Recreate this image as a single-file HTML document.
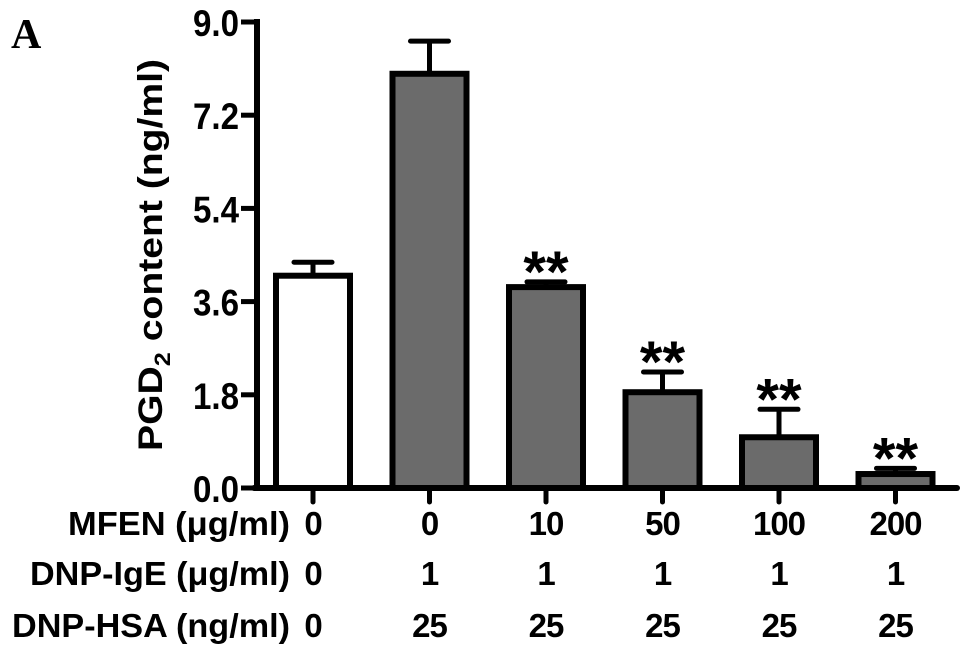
<!DOCTYPE html>
<html><head><meta charset="utf-8"><style>
body{margin:0;background:#fff;}
svg{display:block;font-family:"Liberation Sans",Arial,sans-serif;font-weight:bold;}
</style></head><body>
<svg id="chart" width="969" height="658" viewBox="0 0 969 658">
<text x="11" y="48" font-family="Liberation Serif,serif" font-size="42" font-weight="bold">A</text>
<text transform="translate(162,255) rotate(-90)" text-anchor="middle" font-size="34" textLength="392" lengthAdjust="spacingAndGlyphs">PGD<tspan font-size="22" dy="8">2</tspan><tspan dy="-8"> content (ng/ml)</tspan></text>
<g id="yaxis"></g><g id="bars"></g><g id="xlabels"></g>
</svg>
<script>
const categories=["g1","g2","g3","g4","g5","g6"];
const values=[4.1,8.0,3.88,1.85,0.98,0.27];
const errors=[0.26,0.63,0.1,0.39,0.54,0.11];
const significance=["","","**","**","**","**"];
const fills=["#fff","#6b6b6b","#6b6b6b","#6b6b6b","#6b6b6b","#6b6b6b"];
const yTicks=[0,1.8,3.6,5.4,7.2,9.0];
const mfen=["0","0","10","50","100","200"];
const ige=["0","1","1","1","1","1"];
const hsa=["0","25","25","25","25","25"];
const rowTitles=["MFEN (\u03bcg/ml)","DNP-IgE (\u03bcg/ml)","DNP-HSA (ng/ml)"];

const NS="http://www.w3.org/2000/svg";
const y0=488,yTop=22,yMax=9.0,axisX=257,band=116.5,first=313,barW=80;
const y=v=>y0-(v/yMax)*(y0-yTop);
const x=i=>first+i*band;
function mk(tag,attrs,parent){const e=document.createElementNS(NS,tag);for(const k in attrs)e.setAttribute(k,attrs[k]);parent.appendChild(e);return e;}
const ya=document.getElementById('yaxis'),bg=document.getElementById('bars'),xl=document.getElementById('xlabels');

let l=mk('line',{x1:axisX,y1:yTop-3,x2:axisX,y2:y0+3,stroke:'#000','stroke-width':6},ya);


l=mk('line',{x1:axisX-3,y1:y0,x2:957,y2:y0,stroke:'#000','stroke-width':6,'stroke-linecap':'round'},ya);


yTicks.forEach(t=>{
  const tk=mk('line',{x1:axisX-16,y1:y(t),x2:axisX,y2:y(t),stroke:'#000','stroke-width':5},ya);
  
  
  const tx=mk('text',{x:axisX-64,y:y(t)+14,'font-size':37,textLength:46,lengthAdjust:'spacingAndGlyphs'},ya);
  tx.textContent=t.toFixed(1);
  
  
});
categories.forEach((c,i)=>{
  const cx=x(i),top=y(values[i]),et=y(values[i]+errors[i]);
  const eb=mk('line',{x1:cx,y1:et,x2:cx,y2:top,stroke:'#000','stroke-width':5},bg);
  
  
  const cap=mk('line',{x1:cx-19,y1:et,x2:cx+19,y2:et,stroke:'#000','stroke-width':5,'stroke-linecap':'round'},bg);
  
  
  const r=mk('rect',{x:cx-barW/2+3,y:top,width:barW-6,height:y0-top,fill:fills[i],stroke:'#000','stroke-width':6},bg);
  
  
  const tk=mk('line',{x1:cx,y1:y0,x2:cx,y2:y0+14,stroke:'#000','stroke-width':5,'stroke-linecap':'round'},bg);
  
  
  if(significance[i]){
    const s=mk('text',{x:cx,y:et+10,'text-anchor':'middle','font-size':58},bg);
    s.textContent=significance[i];
    
    
  }
  [[mfen,535],[ige,585],[hsa,637]].forEach(([arr,yy])=>{
    const t=mk('text',{x:cx,y:yy,'text-anchor':'middle','font-size':33,'letter-spacing':'-1'},xl);
    t.textContent=arr[i];
    
    
  });
});
const rowLeft=[68,30,12];
rowTitles.forEach((rt,j)=>{
  const t=mk('text',{x:rowLeft[j],y:[535,585,637][j],'font-size':33,textLength:290-rowLeft[j],lengthAdjust:'spacingAndGlyphs'},xl);
  t.textContent=rt;
  
  
});
</script>
</body></html>
